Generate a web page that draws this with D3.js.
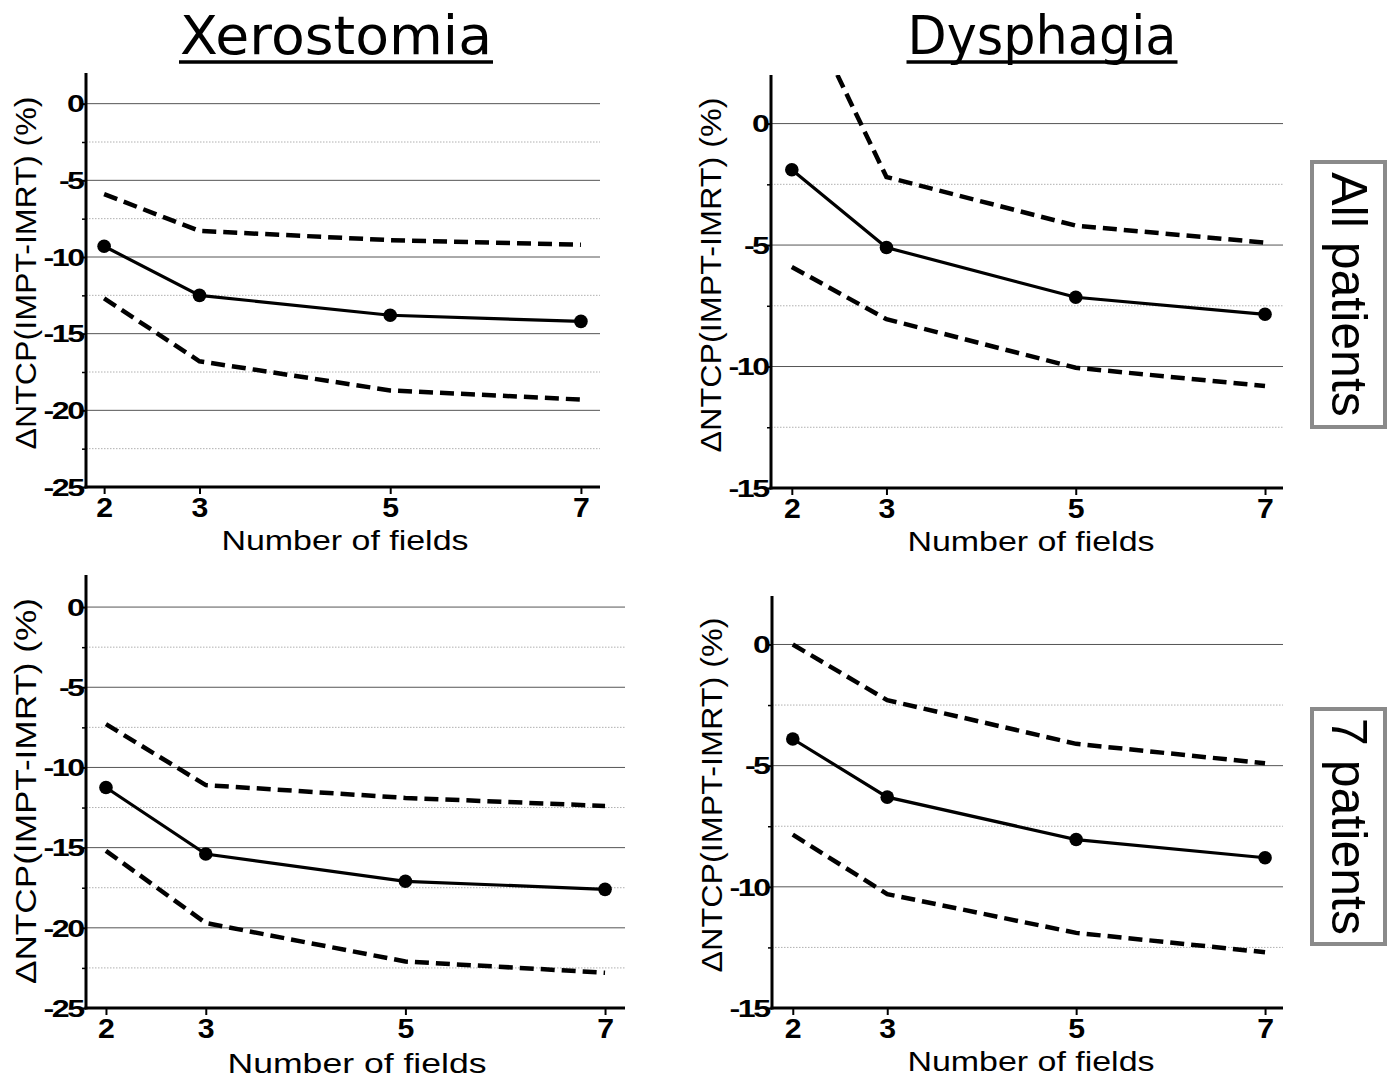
<!DOCTYPE html>
<html><head><meta charset="utf-8">
<script src="https://cdn.jsdelivr.net/npm/d3@7"></script>
<style>body{margin:0;background:#fff}svg{display:block}</style>
</head><body>
<svg id="c" width="1396" height="1078"></svg>
<script>
// ---- data ----
const fields = [2, 3, 5, 7];
const yTicksXero = [0, -5, -10, -15, -20, -25];
const yTicksDys = [0, -5, -10, -15];
const columnTitles = ["Xerostomia", "Dysphagia"];
const rowTitles = ["All patients", "7 patients"];
const xeroAllMedian = [-9.3, -12.5, -13.8, -14.2];
const xeroAllUpper  = [-5.9, -8.3, -8.9, -9.2];
const xeroAllLower  = [-12.7, -16.8, -18.7, -19.3];
const dysAllMedian  = [-1.9, -5.1, -7.15, -7.85];
const dysAllUpper   = [5.9, -2.2, -4.2, -4.9];
const dysAllLower   = [-5.9, -8.05, -10.05, -10.8];
const xero7Median   = [-11.25, -15.4, -17.1, -17.6];
const xero7Upper    = [-7.3, -11.1, -11.9, -12.4];
const xero7Lower    = [-15.2, -19.7, -22.1, -22.8];
const dys7Median    = [-3.9, -6.3, -8.05, -8.8];
const dys7Upper     = [0, -2.3, -4.1, -4.9];
const dys7Lower     = [-7.85, -10.3, -11.9, -12.7];
const xLabel = "Number of fields";
const yLabel = "\u0394NTCP(IMPT-IMRT) (%)";

const svg = d3.select("#c");

const panels = [
  {id:"p1", L:86, R:600, T:73, B:487, xd:[1.81,7.2], yd:[-25,2], yt:yTicksXero, med:xeroAllMedian, up:xeroAllUpper, lo:xeroAllLower,
   xlX:345, xlY:550, xlW:247, ylC:273, ylW:353},
  {id:"p2", L:771, R:1283, T:75, B:488, xd:[1.78,7.19], yd:[-15,2], yt:yTicksDys, med:dysAllMedian, up:dysAllUpper, lo:dysAllLower,
   xlX:1031, xlY:551, xlW:247, ylC:275, ylW:355},
  {id:"p3", L:86, R:625, T:575, B:1008, xd:[1.8,7.2], yd:[-25,2], yt:yTicksXero, med:xero7Median, up:xero7Upper, lo:xero7Lower,
   xlX:357, xlY:1073, xlW:259, ylC:791, ylW:386},
  {id:"p4", L:772, R:1283, T:596, B:1008, xd:[1.78,7.19], yd:[-15,2], yt:yTicksDys, med:dys7Median, up:dys7Upper, lo:dys7Lower,
   xlX:1031, xlY:1071, xlW:247, ylC:795, ylW:355}
];

const defs = svg.append("defs");
const tickFont = "Liberation Sans, Arial, sans-serif";

panels.forEach(p => {
  const x = d3.scaleLinear().domain(p.xd).range([p.L, p.R]);
  const y = d3.scaleLinear().domain(p.yd).range([p.B, p.T]);
  const g = svg.append("g");

  defs.append("clipPath").attr("id", "clip-" + p.id)
    .append("rect").attr("x", p.L).attr("y", p.T).attr("width", p.R - p.L).attr("height", p.B - p.T);

  // minor dotted grid
  const minor = d3.range(p.yd[0] + 2.5, 0, 5);
  g.selectAll(".mg").data(minor).join("line")
    .attr("x1", p.L).attr("x2", p.R).attr("y1", d => y(d)).attr("y2", d => y(d))
    .attr("stroke", "#b0b0b0").attr("stroke-width", 1).attr("stroke-dasharray", "1.5,1.5");
  // major grid
  g.selectAll(".Mg").data(p.yt.filter(d => d > p.yd[0])).join("line")
    .attr("x1", p.L).attr("x2", p.R).attr("y1", d => y(d)).attr("y2", d => y(d))
    .attr("stroke", "#555").attr("stroke-width", 1);

  // y axis
  const ya = d3.axisLeft(y).tickValues(p.yt).tickSize(6).tickFormat(d => String(d));
  const yg = g.append("g").attr("transform", `translate(${p.L},0)`).call(ya);
  yg.select(".domain").remove();
  yg.selectAll(".tick line").attr("stroke", "#000").attr("stroke-width", 2);
  yg.selectAll(".tick text").attr("font-family", tickFont)
    .attr("font-weight", "bold").attr("font-size", 23).attr("fill", "#000")
    .attr("x", -2.5).attr("dy", "0.36em").attr("letter-spacing", -1.8)
    .attr("transform", "scale(1.4,1)");
  const ym = d3.axisLeft(y).tickValues(minor).tickSize(4).tickFormat("");
  const ymg = g.append("g").attr("transform", `translate(${p.L},0)`).call(ym);
  ymg.select(".domain").remove();
  ymg.selectAll(".tick line").attr("stroke", "#000").attr("stroke-width", 1.5);
  g.append("line").attr("x1", p.L).attr("x2", p.L).attr("y1", p.T).attr("y2", p.B + 1.5)
    .attr("stroke", "#000").attr("stroke-width", 3);

  // x axis
  const xa = d3.axisBottom(x).tickValues(fields).tickSize(7).tickFormat(d => String(d));
  const xg = g.append("g").attr("transform", `translate(0,${p.B})`).call(xa);
  xg.select(".domain").remove();
  xg.selectAll(".tick line").attr("stroke", "#000").attr("stroke-width", 2);
  xg.selectAll(".tick text").attr("font-family", tickFont)
    .attr("font-weight", "bold").attr("font-size", 27).attr("fill", "#000").attr("y", 11)
    .attr("transform", "scale(1.12,1)");
  g.append("line").attr("x1", p.L - 1.5).attr("x2", p.R).attr("y1", p.B).attr("y2", p.B)
    .attr("stroke", "#000").attr("stroke-width", 3);

  // axis titles
  g.append("text").attr("x", p.xlX).attr("y", p.xlY).attr("text-anchor", "middle")
    .attr("font-family", tickFont).attr("font-size", 27).attr("fill", "#000")
    .attr("textLength", p.xlW).attr("lengthAdjust", "spacingAndGlyphs").text(xLabel);
  g.append("text").attr("transform", `translate(${p.L - 50},${p.ylC}) rotate(-90)`)
    .attr("text-anchor", "middle")
    .attr("font-family", tickFont).attr("font-size", 29).attr("fill", "#000")
    .attr("textLength", p.ylW).attr("lengthAdjust", "spacingAndGlyphs").text(yLabel);

  // series
  const line = d3.line().x((d, i) => x(fields[i])).y(d => y(d));
  const cg = g.append("g").attr("clip-path", `url(#clip-${p.id})`);
  [p.up, p.lo].forEach(s => {
    cg.append("path").attr("d", line(s)).attr("fill", "none").attr("stroke", "#000")
      .attr("stroke-width", 4.5).attr("stroke-dasharray", "14,7");
  });
  g.append("path").attr("d", line(p.med)).attr("fill", "none").attr("stroke", "#000").attr("stroke-width", 3.2);
  g.selectAll(".pt").data(p.med).join("circle")
    .attr("cx", (d, i) => x(fields[i])).attr("cy", d => y(d)).attr("r", 6.8).attr("fill", "#000");
});

// column titles
const colX = [336, 1042];
const colW = [312, 269];
columnTitles.forEach((t, i) => {
  svg.append("text").attr("x", colX[i]).attr("y", 54).attr("text-anchor", "middle")
    .attr("font-family", "DejaVu Sans, sans-serif").attr("font-size", 54).attr("fill", "#000")
    .attr("textLength", colW[i]).attr("lengthAdjust", "spacingAndGlyphs").text(t);
  svg.append("line").attr("x1", colX[i] - colW[i] / 2 - 1).attr("x2", colX[i] + colW[i] / 2 + 1)
    .attr("y1", 62).attr("y2", 62).attr("stroke", "#000").attr("stroke-width", 3.5);
});

// row titles
const rowBox = [[162, 427], [709, 944]];
rowTitles.forEach((t, i) => {
  const [t0, t1] = rowBox[i];
  svg.append("rect").attr("x", 1312).attr("y", t0).attr("width", 73).attr("height", t1 - t0)
    .attr("fill", "#fff").attr("stroke", "#8a8a8a").attr("stroke-width", 4);
  svg.append("text").attr("transform", `translate(1332,${(t0 + t1) / 2}) rotate(90)`)
    .attr("text-anchor", "middle").attr("font-family", tickFont)
    .attr("font-size", 50).attr("fill", "#000").text(t);
});
</script>
</body></html>
